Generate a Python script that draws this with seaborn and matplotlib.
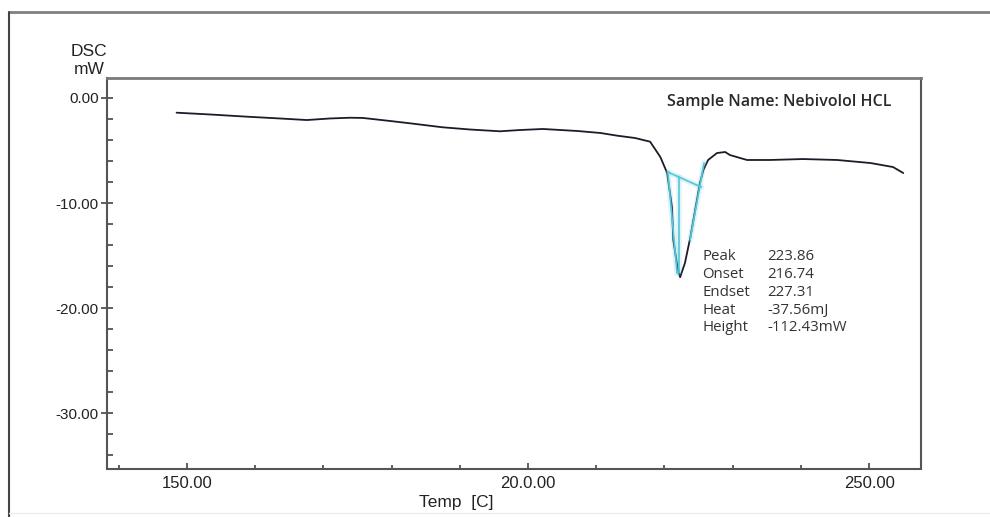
import matplotlib
matplotlib.use("Agg")
import matplotlib.pyplot as plt
from matplotlib.lines import Line2D
from matplotlib.ticker import FixedLocator, FixedFormatter
import seaborn as sns
import pandas as pd

# ---- data ----
temp = [148.5, 153.4, 158.8, 163.6, 167.6, 171.0, 173.9, 175.8, 179.8, 182.7,
        187.5, 191.5, 195.9, 198.8, 202.2, 207.2, 210.6, 213.1, 215.7, 217.9,
        219.4, 220.4, 221.1, 221.3, 221.9, 222.3, 223.0, 223.8, 224.5, 225.2,
        225.7, 226.4, 227.7, 228.9, 229.6, 232.1, 235.5, 240.3, 245.3, 250.2,
        253.5, 255.0]
dsc = [-1.40, -1.57, -1.78, -1.95, -2.10, -1.95, -1.88, -1.90, -2.19, -2.41,
       -2.79, -3.00, -3.17, -3.05, -2.95, -3.14, -3.33, -3.59, -3.81, -4.16,
       -5.62, -7.14, -10.38, -13.52, -16.10, -17.05, -15.71, -13.24, -10.67, -8.10,
       -6.86, -5.90, -5.24, -5.14, -5.43, -5.90, -5.90, -5.81, -5.90, -6.19,
       -6.57, -7.14]

baseline_t = [220.5, 225.4]
baseline_v = [-7.05, -8.48]
peakline_t = [222.1, 222.1]
peakline_v = [-7.52, -16.67]
onset_t = [220.5, 221.85]
onset_v = [-7.05, -16.67]
endset_t = [225.8, 223.75]
endset_v = [-6.19, -13.52]

x_major = [150, 200, 250]
x_major_labels = ["150.00", "20.0.00", "250.00"]
x_minor = [140, 160, 170, 180, 190, 210, 220, 230, 240]
y_major = [0, -10, -20, -30]
y_major_labels = ["0.00", "-10.00", "-20.00", "-30.00"]
y_minor = [v for v in range(-34, 1, 2) if v % 10 != 0]

result_names = ["Peak", "Onset", "Endset", "Heat", "Height"]
result_values = ["223.86", "216.74", "227.31", "-37.56mJ", "-112.43mW"]
sample_name = "Sample Name: Nebivolol HCL"

# ---- figure ----
sns.set_style("white")
plt.rcParams["font.family"] = ["Liberation Sans", "DejaVu Sans"]

W, H = 990, 517
fig = plt.figure(figsize=(W / 100, H / 100), dpi=100)
ax = fig.add_axes([107 / W, 1 - 469 / H, 814 / W, 391 / H])

df = pd.DataFrame({"Temp": temp, "DSC": dsc})
sns.lineplot(data=df, x="Temp", y="DSC", ax=ax, color="#1c1c28",
             linewidth=1.3, sort=False, estimator=None)

cyan = "#55c6da"
for tt, vv in [(baseline_t, baseline_v), (peakline_t, peakline_v),
               (onset_t, onset_v), (endset_t, endset_v)]:
    ax.plot(tt, vv, color=cyan, linewidth=4, alpha=0.18, solid_capstyle="round")
    ax.plot(tt, vv, color=cyan, linewidth=1.2)

ax.set_xlim(138.3, 257.6)
ax.set_ylim(-35.3, 1.9)

ax.xaxis.set_major_locator(FixedLocator(x_major))
ax.xaxis.set_major_formatter(FixedFormatter(x_major_labels))
ax.xaxis.set_minor_locator(FixedLocator(x_minor))
ax.yaxis.set_major_locator(FixedLocator(y_major))
ax.yaxis.set_major_formatter(FixedFormatter(y_major_labels))
ax.yaxis.set_minor_locator(FixedLocator(y_minor))

ax.tick_params(axis="x", which="major", direction="in", length=4, width=1.2,
               color="#444", labelsize=12, labelcolor="#222", pad=5)
ax.tick_params(axis="x", which="minor", direction="in", length=3, width=1.2,
               color="#444")
ax.tick_params(axis="y", which="major", direction="inout", length=8, width=1.2,
               color="#444", labelsize=11, labelcolor="#222", pad=2)
ax.tick_params(axis="y", which="minor", direction="in", length=4, width=1.2,
               color="#444")
ax.tick_params(left=True, bottom=True, which="both")

for name, sp in ax.spines.items():
    sp.set_visible(True)
    sp.set_color("#555")
    sp.set_linewidth(1.5)
ax.spines["top"].set_color("#7a7a7a")
ax.spines["top"].set_linewidth(2)

ax.set_xlabel("")
ax.set_ylabel("")

fig.text(456 / W, 1 - 502 / H, "Temp  [C]", ha="center", va="center",
         fontsize=12.5, color="#222")
fig.text(89 / W, 1 - 52 / H, "DSC", ha="center", va="center",
         fontsize=12.5, color="#222")
fig.text(89 / W, 1 - 70 / H, "mW", ha="center", va="center",
         fontsize=12.5, color="#222")

ax.text((667 - 107) / 814, (469 - 102) / 391, sample_name, transform=ax.transAxes,
        ha="left", va="center", fontsize=11.5, family=["Open Sans", "DejaVu Sans"],
        fontweight="semibold", color="#2a2a2a")

for i, (n, v) in enumerate(zip(result_names, result_values)):
    yy = (469 - 257 - i * 17.7) / 391
    ax.text((702 - 107) / 814, yy, n, transform=ax.transAxes, ha="left",
            va="center", fontsize=10.8, family=["Open Sans", "DejaVu Sans"],
            color="#333")
    ax.text((767 - 107) / 814, yy, v, transform=ax.transAxes, ha="left",
            va="center", fontsize=10.8, family=["Open Sans", "DejaVu Sans"],
            color="#333")

# outer picture frame
fig.add_artist(Line2D([9 / W, 1], [1 - 12 / H, 1 - 12 / H], color="#808080",
                      linewidth=2, transform=fig.transFigure))
fig.add_artist(Line2D([9 / W, 9 / W], [0, 1 - 12 / H], color="#444",
                      linewidth=1.5, transform=fig.transFigure))
fig.add_artist(Line2D([9 / W, 1], [1 - 513 / H, 1 - 513 / H], color="#ececec",
                      linewidth=1, transform=fig.transFigure))

fig.savefig("out.png", dpi=100)
